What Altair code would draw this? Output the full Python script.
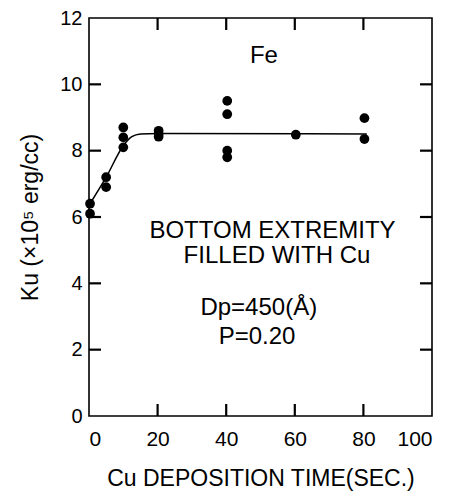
import altair as alt
import pandas as pd

# measured points
time = [0.3, 0.3, 5, 5, 10, 10, 10, 20.3, 20.3, 20.3, 40.3, 40.3, 40.3, 40.3, 60.3, 80.3, 80.3]
ku = [6.4, 6.1, 7.2, 6.9, 8.7, 8.4, 8.1, 8.6, 8.5, 8.42, 9.5, 9.1, 8.0, 7.8, 8.48, 8.98, 8.35]

# guide curve
curve_t = [0.3, 5, 10, 12.5, 15, 20, 81]
curve_k = [6.4, 7.2, 8.15, 8.42, 8.5, 8.52, 8.5]

# annotations
notes = ["Fe", "BOTTOM EXTREMITY", "FILLED WITH Cu", "Dp=450(Å)", "P=0.20"]
note_x = [51, 53.5, 54.8, 49.5, 49]
note_y = [10.63, 5.36, 4.61, 3.05, 2.16]

x_ticks = [0, 20, 40, 60, 80, 100]
y_ticks = [0, 2, 4, 6, 8, 10, 12]
x_inner = [20, 40, 60, 80]
y_inner = [2, 4, 6, 8, 10]

W, H = 343, 398
FONT = "Liberation Sans"

pts = pd.DataFrame({"t": time, "k": ku})
crv = pd.DataFrame({"t": curve_t, "k": curve_k})
txt = pd.DataFrame({"label": notes, "t": note_x, "k": note_y})
xin = pd.DataFrame({"tt": x_inner})
yin = pd.DataFrame({"kk": y_inner})

xscale = alt.Scale(domain=[0, 100], nice=False, zero=False)
yscale = alt.Scale(domain=[0, 12], nice=False, zero=False)

xaxis = alt.Axis(values=x_ticks, ticks=False, domain=False, grid=False,
                 labelFont=FONT, labelFontSize=21, labelColor="black", labelPadding=12,
                 title="Cu DEPOSITION TIME(SEC.)", titleFont=FONT, titleFontSize=23,
                 titleFontWeight="normal", titleColor="black", titlePadding=18)
yaxis = alt.Axis(values=y_ticks, ticks=False, domain=False, grid=False,
                 labelFont=FONT, labelFontSize=20, labelColor="black", labelPadding=7,
                 title="Ku (×10⁵ erg/cc)", titleFont=FONT, titleFontSize=23,
                 titleFontWeight="normal", titleColor="black", titlePadding=17)

tl = 12
TICK = dict(color="#000000", strokeWidth=2.2)
left_ticks = alt.Chart(yin).mark_rule(**TICK).encode(
    y=alt.Y("kk:Q", scale=yscale, axis=yaxis), x=alt.value(0), x2=alt.value(tl))
right_ticks = alt.Chart(yin).mark_rule(**TICK).encode(
    y=alt.Y("kk:Q", scale=yscale), x=alt.value(W - tl), x2=alt.value(W))
top_ticks = alt.Chart(xin).mark_rule(**TICK).encode(
    x=alt.X("tt:Q", scale=xscale, axis=xaxis), y=alt.value(0), y2=alt.value(tl))
bottom_ticks = alt.Chart(xin).mark_rule(**TICK).encode(
    x=alt.X("tt:Q", scale=xscale), y=alt.value(H - tl), y2=alt.value(H))

points = alt.Chart(pts).mark_circle(size=95, color="black", opacity=1).encode(
    x=alt.X("t:Q", scale=xscale),
    y=alt.Y("k:Q", scale=yscale),
)

line = alt.Chart(crv).mark_line(color="black", strokeWidth=1.5, interpolate="monotone").encode(
    x=alt.X("t:Q", scale=xscale),
    y=alt.Y("k:Q", scale=yscale),
)

labels = alt.Chart(txt).mark_text(font=FONT, fontSize=24, color="black", align="center",
                                  baseline="alphabetic").encode(
    x=alt.X("t:Q", scale=xscale),
    y=alt.Y("k:Q", scale=yscale),
    text="label:N",
)

chart = alt.layer(left_ticks, right_ticks, top_ticks, bottom_ticks, line, points, labels).properties(
    width=W, height=H,
    autosize=alt.AutoSizeParams(type="none"),
    padding={"left": 81, "top": 10, "right": 17, "bottom": 76},
    background="white",
).configure_view(stroke="black", strokeWidth=1.6)

chart.save("out.html", embed_options={"renderer": "svg", "actions": False})
